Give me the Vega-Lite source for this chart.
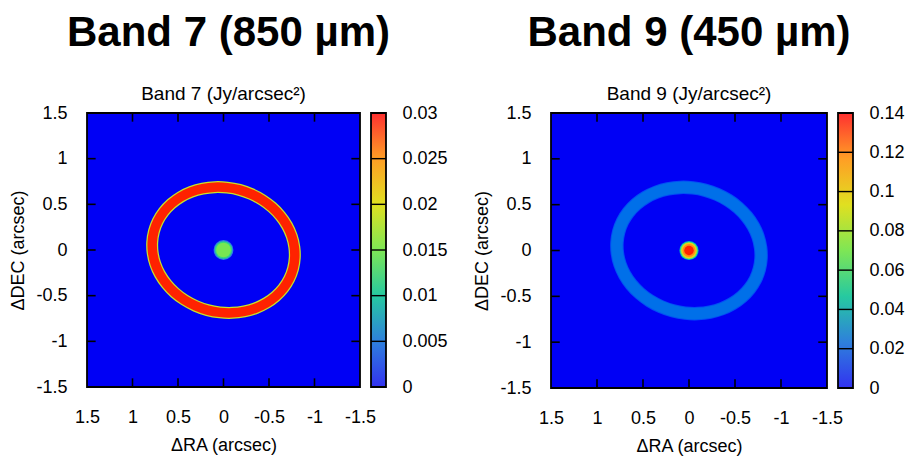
{
  "$schema": "https://vega.github.io/schema/vega-lite/v6.json",
  "background": "white",
  "padding": {"left": 9, "top": 12, "right": 5, "bottom": 5},
  "datasets": {
    "level": [{"level": 0}],
    "ticks": [{"v": 1}, {"v": 0.5}, {"v": 0}, {"v": -0.5}, {"v": -1}],
    "ring": [
      {"i": 0, "ra": -0.764, "dec": -0.205},
      {"i": 1, "ra": -0.783, "dec": -0.087},
      {"i": 2, "ra": -0.778, "dec": 0.033},
      {"i": 3, "ra": -0.750, "dec": 0.152},
      {"i": 4, "ra": -0.699, "dec": 0.266},
      {"i": 5, "ra": -0.626, "dec": 0.372},
      {"i": 6, "ra": -0.535, "dec": 0.467},
      {"i": 7, "ra": -0.427, "dec": 0.548},
      {"i": 8, "ra": -0.306, "dec": 0.612},
      {"i": 9, "ra": -0.176, "dec": 0.658},
      {"i": 10, "ra": -0.041, "dec": 0.683},
      {"i": 11, "ra": 0.096, "dec": 0.688},
      {"i": 12, "ra": 0.229, "dec": 0.672},
      {"i": 13, "ra": 0.356, "dec": 0.636},
      {"i": 14, "ra": 0.472, "dec": 0.580},
      {"i": 15, "ra": 0.574, "dec": 0.506},
      {"i": 16, "ra": 0.658, "dec": 0.417},
      {"i": 17, "ra": 0.722, "dec": 0.316},
      {"i": 18, "ra": 0.764, "dec": 0.205},
      {"i": 19, "ra": 0.783, "dec": 0.087},
      {"i": 20, "ra": 0.778, "dec": -0.033},
      {"i": 21, "ra": 0.750, "dec": -0.152},
      {"i": 22, "ra": 0.699, "dec": -0.266},
      {"i": 23, "ra": 0.626, "dec": -0.372},
      {"i": 24, "ra": 0.535, "dec": -0.467},
      {"i": 25, "ra": 0.427, "dec": -0.548},
      {"i": 26, "ra": 0.306, "dec": -0.612},
      {"i": 27, "ra": 0.176, "dec": -0.658},
      {"i": 28, "ra": 0.041, "dec": -0.683},
      {"i": 29, "ra": -0.096, "dec": -0.688},
      {"i": 30, "ra": -0.229, "dec": -0.672},
      {"i": 31, "ra": -0.356, "dec": -0.636},
      {"i": 32, "ra": -0.472, "dec": -0.580},
      {"i": 33, "ra": -0.574, "dec": -0.506},
      {"i": 34, "ra": -0.658, "dec": -0.417},
      {"i": 35, "ra": -0.722, "dec": -0.316}
    ],
    "dot7": [
      {"ra": 0, "dec": 0, "r": 0.105, "value": 0.005},
      {"ra": 0, "dec": 0, "r": 0.092, "value": 0.0105},
      {"ra": 0, "dec": 0, "r": 0.078, "value": 0.0145}
    ],
    "dot9": [
      {"ra": 0, "dec": 0, "r": 0.10, "value": 0.04},
      {"ra": 0, "dec": 0, "r": 0.09, "value": 0.07},
      {"ra": 0, "dec": 0, "r": 0.08, "value": 0.1},
      {"ra": 0, "dec": 0, "r": 0.068, "value": 0.12},
      {"ra": 0, "dec": 0, "r": 0.05, "value": 0.14}
    ],
    "bar7": [{"v": 0}, {"v": 0.005}, {"v": 0.01}, {"v": 0.015}, {"v": 0.02}, {"v": 0.025}, {"v": 0.03}],
    "bar9": [{"v": 0}, {"v": 0.02}, {"v": 0.04}, {"v": 0.06}, {"v": 0.08}, {"v": 0.1}, {"v": 0.12}, {"v": 0.14}]
  },
  "hconcat": [
    {
      "title": {"text": "Band 7 (850 µm)", "fontSize": 42, "fontWeight": "bold", "offset": 30, "anchor": "middle"},
      "spacing": 6,
      "bounds": "flush",
      "hconcat": [
        {
          "width": 283, "height": 284,
          "title": {"text": "Band 7 (Jy/arcsec²)", "fontSize": 19, "fontWeight": "normal", "offset": 0},
          "layer": [
            {
              "data": {"name": "level"},
              "mark": {"type": "rect", "stroke": "black", "strokeWidth": 1.8},
              "encoding": {
                "x": {"datum": 1.5, "type": "quantitative", "scale": {"domain": [-1.5, 1.5], "reverse": true, "nice": false, "zero": false},
                  "axis": {"orient": "bottom", "values": [1.5, 1, 0.5, 0, -0.5, -1, -1.5], "labelExpr": "datum.value + ''", "ticks": false, "labelPadding": 16, "labelFlush": false, "labelOverlap": false, "domain": false, "grid": false, "title": "ΔRA (arcsec)", "titlePadding": 10}},
                "x2": {"datum": -1.5},
                "y": {"datum": -1.5, "type": "quantitative", "scale": {"domain": [-1.5, 1.5], "nice": false, "zero": false},
                  "axis": {"orient": "left", "values": [1.5, 1, 0.5, 0, -0.5, -1, -1.5], "labelExpr": "datum.value + ''", "ticks": false, "labelPadding": 15, "labelFlush": false, "labelOverlap": false, "domain": false, "grid": false, "title": "ΔDEC (arcsec)", "titlePadding": 8}},
                "y2": {"datum": 1.5},
                "color": {"field": "level", "type": "quantitative", "scale": {"domain": [0, 0.005, 0.01, 0.015, 0.02, 0.025, 0.03], "range": ["#0000f5", "#2d7ee0", "#2ad28a", "#80e84a", "#eedd20", "#ff9a22", "#ff2200"]}, "legend": null}
              }
            },
            {
              "data": {"name": "ring"},
              "mark": {"type": "line", "interpolate": "cardinal-closed", "strokeWidth": 12},
              "encoding": {
                "x": {"field": "ra", "type": "quantitative",
                  "axis": {"orient": "bottom", "values": [1.5, 1, 0.5, 0, -0.5, -1, -1.5], "labelExpr": "datum.value + ''", "ticks": false, "labelPadding": 16, "labelFlush": false, "labelOverlap": false, "domain": false, "grid": false, "title": "ΔRA (arcsec)", "titlePadding": 10}},
                "y": {"field": "dec", "type": "quantitative",
                  "axis": {"orient": "left", "values": [1.5, 1, 0.5, 0, -0.5, -1, -1.5], "labelExpr": "datum.value + ''", "ticks": false, "labelPadding": 15, "labelFlush": false, "labelOverlap": false, "domain": false, "grid": false, "title": "ΔDEC (arcsec)", "titlePadding": 8}},
                "order": {"field": "i", "type": "quantitative"},
                "color": {"datum": 0.018, "type": "quantitative", "legend": null}
              }
            },
            {
              "data": {"name": "ring"},
              "mark": {"type": "line", "interpolate": "cardinal-closed", "strokeWidth": 9.5},
              "encoding": {
                "x": {"field": "ra", "type": "quantitative",
                  "axis": {"orient": "bottom", "values": [1.5, 1, 0.5, 0, -0.5, -1, -1.5], "labelExpr": "datum.value + ''", "ticks": false, "labelPadding": 16, "labelFlush": false, "labelOverlap": false, "domain": false, "grid": false, "title": "ΔRA (arcsec)", "titlePadding": 10}},
                "y": {"field": "dec", "type": "quantitative",
                  "axis": {"orient": "left", "values": [1.5, 1, 0.5, 0, -0.5, -1, -1.5], "labelExpr": "datum.value + ''", "ticks": false, "labelPadding": 15, "labelFlush": false, "labelOverlap": false, "domain": false, "grid": false, "title": "ΔDEC (arcsec)", "titlePadding": 8}},
                "order": {"field": "i", "type": "quantitative"},
                "color": {"datum": 0.03, "type": "quantitative", "legend": null}
              }
            },
            {
              "data": {"name": "dot7"},
              "mark": {"type": "point", "shape": "circle", "filled": true, "opacity": 1, "strokeWidth": 0},
              "encoding": {
                "x": {"field": "ra", "type": "quantitative",
                  "axis": {"orient": "bottom", "values": [1.5, 1, 0.5, 0, -0.5, -1, -1.5], "labelExpr": "datum.value + ''", "ticks": false, "labelPadding": 16, "labelFlush": false, "labelOverlap": false, "domain": false, "grid": false, "title": "ΔRA (arcsec)", "titlePadding": 10}},
                "y": {"field": "dec", "type": "quantitative",
                  "axis": {"orient": "left", "values": [1.5, 1, 0.5, 0, -0.5, -1, -1.5], "labelExpr": "datum.value + ''", "ticks": false, "labelPadding": 15, "labelFlush": false, "labelOverlap": false, "domain": false, "grid": false, "title": "ΔDEC (arcsec)", "titlePadding": 8}},
                "size": {"field": "r", "type": "quantitative", "scale": {"type": "pow", "exponent": 2, "domain": [0, 1], "range": [0, 35595]}, "legend": null},
                "color": {"field": "value", "type": "quantitative", "legend": null}
              }
            },
            {
              "data": {"name": "ticks"},
              "mark": {"type": "bar", "orient": "vertical", "size": 1.6, "fill": "black", "strokeWidth": 0},
              "encoding": {
                "x": {"field": "v", "type": "quantitative",
                  "axis": {"orient": "bottom", "values": [1.5, 1, 0.5, 0, -0.5, -1, -1.5], "labelExpr": "datum.value + ''", "ticks": false, "labelPadding": 16, "labelFlush": false, "labelOverlap": false, "domain": false, "grid": false, "title": "ΔRA (arcsec)", "titlePadding": 10}},
                "y": {"datum": -1.5, "type": "quantitative",
                  "axis": {"orient": "left", "values": [1.5, 1, 0.5, 0, -0.5, -1, -1.5], "labelExpr": "datum.value + ''", "ticks": false, "labelPadding": 15, "labelFlush": false, "labelOverlap": false, "domain": false, "grid": false, "title": "ΔDEC (arcsec)", "titlePadding": 8}},
                "y2": {"datum": -1.405}
              }
            },
            {
              "data": {"name": "ticks"},
              "mark": {"type": "bar", "orient": "vertical", "size": 1.6, "fill": "black", "strokeWidth": 0},
              "encoding": {
                "x": {"field": "v", "type": "quantitative",
                  "axis": {"orient": "bottom", "values": [1.5, 1, 0.5, 0, -0.5, -1, -1.5], "labelExpr": "datum.value + ''", "ticks": false, "labelPadding": 16, "labelFlush": false, "labelOverlap": false, "domain": false, "grid": false, "title": "ΔRA (arcsec)", "titlePadding": 10}},
                "y": {"datum": 1.5, "type": "quantitative",
                  "axis": {"orient": "left", "values": [1.5, 1, 0.5, 0, -0.5, -1, -1.5], "labelExpr": "datum.value + ''", "ticks": false, "labelPadding": 15, "labelFlush": false, "labelOverlap": false, "domain": false, "grid": false, "title": "ΔDEC (arcsec)", "titlePadding": 8}},
                "y2": {"datum": 1.405}
              }
            },
            {
              "data": {"name": "ticks"},
              "mark": {"type": "bar", "orient": "horizontal", "size": 1.6, "fill": "black", "strokeWidth": 0},
              "encoding": {
                "y": {"field": "v", "type": "quantitative",
                  "axis": {"orient": "left", "values": [1.5, 1, 0.5, 0, -0.5, -1, -1.5], "labelExpr": "datum.value + ''", "ticks": false, "labelPadding": 15, "labelFlush": false, "labelOverlap": false, "domain": false, "grid": false, "title": "ΔDEC (arcsec)", "titlePadding": 8}},
                "x": {"datum": 1.5, "type": "quantitative",
                  "axis": {"orient": "bottom", "values": [1.5, 1, 0.5, 0, -0.5, -1, -1.5], "labelExpr": "datum.value + ''", "ticks": false, "labelPadding": 16, "labelFlush": false, "labelOverlap": false, "domain": false, "grid": false, "title": "ΔRA (arcsec)", "titlePadding": 10}},
                "x2": {"datum": 1.405}
              }
            },
            {
              "data": {"name": "ticks"},
              "mark": {"type": "bar", "orient": "horizontal", "size": 1.6, "fill": "black", "strokeWidth": 0},
              "encoding": {
                "y": {"field": "v", "type": "quantitative",
                  "axis": {"orient": "left", "values": [1.5, 1, 0.5, 0, -0.5, -1, -1.5], "labelExpr": "datum.value + ''", "ticks": false, "labelPadding": 15, "labelFlush": false, "labelOverlap": false, "domain": false, "grid": false, "title": "ΔDEC (arcsec)", "titlePadding": 8}},
                "x": {"datum": -1.5, "type": "quantitative",
                  "axis": {"orient": "bottom", "values": [1.5, 1, 0.5, 0, -0.5, -1, -1.5], "labelExpr": "datum.value + ''", "ticks": false, "labelPadding": 16, "labelFlush": false, "labelOverlap": false, "domain": false, "grid": false, "title": "ΔRA (arcsec)", "titlePadding": 10}},
                "x2": {"datum": -1.405}
              }
            }
          ]
        },
        {
          "width": 15, "height": 284,
          "data": {"name": "bar7"},
          "layer": [
            {
              "mark": {"type": "rect", "stroke": "black", "strokeWidth": 1.8,
                "fill": {"gradient": "linear", "x1": 0, "y1": 1, "x2": 0, "y2": 0,
                  "stops": [
                    {"offset": 0, "color": "#3232f0"},
                    {"offset": 0.1667, "color": "#2e80dc"},
                    {"offset": 0.3333, "color": "#26c9a0"},
                    {"offset": 0.5, "color": "#7ee655"},
                    {"offset": 0.6667, "color": "#e0e020"},
                    {"offset": 0.8333, "color": "#ff9e25"},
                    {"offset": 1, "color": "#ff3030"}
                  ]}},
              "encoding": {
                "x": {"aggregate": "min", "field": "v", "type": "quantitative", "scale": {"domain": [0, 1], "nice": false}, "axis": null},
                "x2": {"datum": 1},
                "y": {"aggregate": "min", "field": "v", "type": "quantitative", "scale": {"domain": [0, 0.03], "nice": false, "zero": false},
                  "axis": {"orient": "right", "values": [0, 0.005, 0.01, 0.015, 0.02, 0.025, 0.03], "labelExpr": "datum.value + ''", "ticks": false, "domain": false, "grid": false, "labelPadding": 16, "labelFlush": false, "labelOverlap": false, "title": null}},
                "y2": {"aggregate": "max", "field": "v"}
              }
            },
            {
              "mark": {"type": "bar", "orient": "horizontal", "size": 1.4, "fill": "black", "strokeWidth": 0},
              "encoding": {
                "x": {"datum": 0, "type": "quantitative", "axis": null},
                "x2": {"datum": 1},
                "y": {"field": "v", "type": "quantitative",
                  "axis": {"orient": "right", "values": [0, 0.005, 0.01, 0.015, 0.02, 0.025, 0.03], "labelExpr": "datum.value + ''", "ticks": false, "domain": false, "grid": false, "labelPadding": 16, "labelFlush": false, "labelOverlap": false, "title": null}}
              }
            }
          ]
        }
      ]
    },
    {
      "title": {"text": "Band 9 (450 µm)", "fontSize": 42, "fontWeight": "bold", "offset": 30, "anchor": "middle"},
      "spacing": 6,
      "bounds": "flush",
      "hconcat": [
        {
          "width": 286, "height": 285,
          "title": {"text": "Band 9 (Jy/arcsec²)", "fontSize": 19, "fontWeight": "normal", "offset": 0},
          "layer": [
            {
              "data": {"name": "level"},
              "mark": {"type": "rect", "stroke": "black", "strokeWidth": 1.8},
              "encoding": {
                "x": {"datum": 1.5, "type": "quantitative", "scale": {"domain": [-1.5, 1.5], "reverse": true, "nice": false, "zero": false},
                  "axis": {"orient": "bottom", "values": [1.5, 1, 0.5, 0, -0.5, -1, -1.5], "labelExpr": "datum.value + ''", "ticks": false, "labelPadding": 16, "labelFlush": false, "labelOverlap": false, "domain": false, "grid": false, "title": "ΔRA (arcsec)", "titlePadding": 10}},
                "x2": {"datum": -1.5},
                "y": {"datum": -1.5, "type": "quantitative", "scale": {"domain": [-1.5, 1.5], "nice": false, "zero": false},
                  "axis": {"orient": "left", "values": [1.5, 1, 0.5, 0, -0.5, -1, -1.5], "labelExpr": "datum.value + ''", "ticks": false, "labelPadding": 15, "labelFlush": false, "labelOverlap": false, "domain": false, "grid": false, "title": "ΔDEC (arcsec)", "titlePadding": 8}},
                "y2": {"datum": 1.5},
                "color": {"field": "level", "type": "quantitative", "scale": {"domain": [0, 0.02333, 0.04667, 0.07, 0.09333, 0.11667, 0.14], "range": ["#0000f5", "#2d7ee0", "#2ad28a", "#80e84a", "#eedd20", "#ff9a22", "#ff2200"]}, "legend": null}
              }
            },
            {
              "data": {"name": "ring"},
              "mark": {"type": "line", "interpolate": "cardinal-closed", "strokeWidth": 13.5},
              "encoding": {
                "x": {"field": "ra", "type": "quantitative",
                  "axis": {"orient": "bottom", "values": [1.5, 1, 0.5, 0, -0.5, -1, -1.5], "labelExpr": "datum.value + ''", "ticks": false, "labelPadding": 16, "labelFlush": false, "labelOverlap": false, "domain": false, "grid": false, "title": "ΔRA (arcsec)", "titlePadding": 10}},
                "y": {"field": "dec", "type": "quantitative",
                  "axis": {"orient": "left", "values": [1.5, 1, 0.5, 0, -0.5, -1, -1.5], "labelExpr": "datum.value + ''", "ticks": false, "labelPadding": 15, "labelFlush": false, "labelOverlap": false, "domain": false, "grid": false, "title": "ΔDEC (arcsec)", "titlePadding": 8}},
                "order": {"field": "i", "type": "quantitative"},
                "color": {"datum": 0.01, "type": "quantitative", "legend": null}
              }
            },
            {
              "data": {"name": "ring"},
              "mark": {"type": "line", "interpolate": "cardinal-closed", "strokeWidth": 11.5},
              "encoding": {
                "x": {"field": "ra", "type": "quantitative",
                  "axis": {"orient": "bottom", "values": [1.5, 1, 0.5, 0, -0.5, -1, -1.5], "labelExpr": "datum.value + ''", "ticks": false, "labelPadding": 16, "labelFlush": false, "labelOverlap": false, "domain": false, "grid": false, "title": "ΔRA (arcsec)", "titlePadding": 10}},
                "y": {"field": "dec", "type": "quantitative",
                  "axis": {"orient": "left", "values": [1.5, 1, 0.5, 0, -0.5, -1, -1.5], "labelExpr": "datum.value + ''", "ticks": false, "labelPadding": 15, "labelFlush": false, "labelOverlap": false, "domain": false, "grid": false, "title": "ΔDEC (arcsec)", "titlePadding": 8}},
                "order": {"field": "i", "type": "quantitative"},
                "color": {"datum": 0.019, "type": "quantitative", "legend": null}
              }
            },
            {
              "data": {"name": "dot9"},
              "mark": {"type": "point", "shape": "circle", "filled": true, "opacity": 1, "strokeWidth": 0},
              "encoding": {
                "x": {"field": "ra", "type": "quantitative",
                  "axis": {"orient": "bottom", "values": [1.5, 1, 0.5, 0, -0.5, -1, -1.5], "labelExpr": "datum.value + ''", "ticks": false, "labelPadding": 16, "labelFlush": false, "labelOverlap": false, "domain": false, "grid": false, "title": "ΔRA (arcsec)", "titlePadding": 10}},
                "y": {"field": "dec", "type": "quantitative",
                  "axis": {"orient": "left", "values": [1.5, 1, 0.5, 0, -0.5, -1, -1.5], "labelExpr": "datum.value + ''", "ticks": false, "labelPadding": 15, "labelFlush": false, "labelOverlap": false, "domain": false, "grid": false, "title": "ΔDEC (arcsec)", "titlePadding": 8}},
                "size": {"field": "r", "type": "quantitative", "scale": {"type": "pow", "exponent": 2, "domain": [0, 1], "range": [0, 36354]}, "legend": null},
                "color": {"field": "value", "type": "quantitative", "legend": null}
              }
            },
            {
              "data": {"name": "ticks"},
              "mark": {"type": "bar", "orient": "vertical", "size": 1.6, "fill": "black", "strokeWidth": 0},
              "encoding": {
                "x": {"field": "v", "type": "quantitative",
                  "axis": {"orient": "bottom", "values": [1.5, 1, 0.5, 0, -0.5, -1, -1.5], "labelExpr": "datum.value + ''", "ticks": false, "labelPadding": 16, "labelFlush": false, "labelOverlap": false, "domain": false, "grid": false, "title": "ΔRA (arcsec)", "titlePadding": 10}},
                "y": {"datum": -1.5, "type": "quantitative",
                  "axis": {"orient": "left", "values": [1.5, 1, 0.5, 0, -0.5, -1, -1.5], "labelExpr": "datum.value + ''", "ticks": false, "labelPadding": 15, "labelFlush": false, "labelOverlap": false, "domain": false, "grid": false, "title": "ΔDEC (arcsec)", "titlePadding": 8}},
                "y2": {"datum": -1.405}
              }
            },
            {
              "data": {"name": "ticks"},
              "mark": {"type": "bar", "orient": "vertical", "size": 1.6, "fill": "black", "strokeWidth": 0},
              "encoding": {
                "x": {"field": "v", "type": "quantitative",
                  "axis": {"orient": "bottom", "values": [1.5, 1, 0.5, 0, -0.5, -1, -1.5], "labelExpr": "datum.value + ''", "ticks": false, "labelPadding": 16, "labelFlush": false, "labelOverlap": false, "domain": false, "grid": false, "title": "ΔRA (arcsec)", "titlePadding": 10}},
                "y": {"datum": 1.5, "type": "quantitative",
                  "axis": {"orient": "left", "values": [1.5, 1, 0.5, 0, -0.5, -1, -1.5], "labelExpr": "datum.value + ''", "ticks": false, "labelPadding": 15, "labelFlush": false, "labelOverlap": false, "domain": false, "grid": false, "title": "ΔDEC (arcsec)", "titlePadding": 8}},
                "y2": {"datum": 1.405}
              }
            },
            {
              "data": {"name": "ticks"},
              "mark": {"type": "bar", "orient": "horizontal", "size": 1.6, "fill": "black", "strokeWidth": 0},
              "encoding": {
                "y": {"field": "v", "type": "quantitative",
                  "axis": {"orient": "left", "values": [1.5, 1, 0.5, 0, -0.5, -1, -1.5], "labelExpr": "datum.value + ''", "ticks": false, "labelPadding": 15, "labelFlush": false, "labelOverlap": false, "domain": false, "grid": false, "title": "ΔDEC (arcsec)", "titlePadding": 8}},
                "x": {"datum": 1.5, "type": "quantitative",
                  "axis": {"orient": "bottom", "values": [1.5, 1, 0.5, 0, -0.5, -1, -1.5], "labelExpr": "datum.value + ''", "ticks": false, "labelPadding": 16, "labelFlush": false, "labelOverlap": false, "domain": false, "grid": false, "title": "ΔRA (arcsec)", "titlePadding": 10}},
                "x2": {"datum": 1.405}
              }
            },
            {
              "data": {"name": "ticks"},
              "mark": {"type": "bar", "orient": "horizontal", "size": 1.6, "fill": "black", "strokeWidth": 0},
              "encoding": {
                "y": {"field": "v", "type": "quantitative",
                  "axis": {"orient": "left", "values": [1.5, 1, 0.5, 0, -0.5, -1, -1.5], "labelExpr": "datum.value + ''", "ticks": false, "labelPadding": 15, "labelFlush": false, "labelOverlap": false, "domain": false, "grid": false, "title": "ΔDEC (arcsec)", "titlePadding": 8}},
                "x": {"datum": -1.5, "type": "quantitative",
                  "axis": {"orient": "bottom", "values": [1.5, 1, 0.5, 0, -0.5, -1, -1.5], "labelExpr": "datum.value + ''", "ticks": false, "labelPadding": 16, "labelFlush": false, "labelOverlap": false, "domain": false, "grid": false, "title": "ΔRA (arcsec)", "titlePadding": 10}},
                "x2": {"datum": -1.405}
              }
            }
          ]
        },
        {
          "width": 15, "height": 285,
          "data": {"name": "bar9"},
          "layer": [
            {
              "mark": {"type": "rect", "stroke": "black", "strokeWidth": 1.8,
                "fill": {"gradient": "linear", "x1": 0, "y1": 1, "x2": 0, "y2": 0,
                  "stops": [
                    {"offset": 0, "color": "#3232f0"},
                    {"offset": 0.1667, "color": "#2e80dc"},
                    {"offset": 0.3333, "color": "#26c9a0"},
                    {"offset": 0.5, "color": "#7ee655"},
                    {"offset": 0.6667, "color": "#e0e020"},
                    {"offset": 0.8333, "color": "#ff9e25"},
                    {"offset": 1, "color": "#ff3030"}
                  ]}},
              "encoding": {
                "x": {"aggregate": "min", "field": "v", "type": "quantitative", "scale": {"domain": [0, 1], "nice": false}, "axis": null},
                "x2": {"datum": 1},
                "y": {"aggregate": "min", "field": "v", "type": "quantitative", "scale": {"domain": [0, 0.14], "nice": false, "zero": false},
                  "axis": {"orient": "right", "values": [0, 0.02, 0.04, 0.06, 0.08, 0.1, 0.12, 0.14], "labelExpr": "datum.value + ''", "ticks": false, "domain": false, "grid": false, "labelPadding": 16, "labelFlush": false, "labelOverlap": false, "title": null}},
                "y2": {"aggregate": "max", "field": "v"}
              }
            },
            {
              "mark": {"type": "bar", "orient": "horizontal", "size": 1.4, "fill": "black", "strokeWidth": 0},
              "encoding": {
                "x": {"datum": 0, "type": "quantitative", "axis": null},
                "x2": {"datum": 1},
                "y": {"field": "v", "type": "quantitative",
                  "axis": {"orient": "right", "values": [0, 0.02, 0.04, 0.06, 0.08, 0.1, 0.12, 0.14], "labelExpr": "datum.value + ''", "ticks": false, "domain": false, "grid": false, "labelPadding": 16, "labelFlush": false, "labelOverlap": false, "title": null}}
              }
            }
          ]
        }
      ]
    }
  ],
  "spacing": 25,
  "resolve": {"scale": {"color": "independent", "size": "independent"}},
  "config": {
    "font": "Liberation Sans",
    "view": {"stroke": null},
    "axis": {"labelFontSize": 18, "titleFontSize": 18, "titleFontWeight": "normal", "labelColor": "black", "titleColor": "black", "labelFont": "Liberation Sans", "titleFont": "Liberation Sans"},
    "title": {"color": "black", "font": "Liberation Sans"}
  }
}
